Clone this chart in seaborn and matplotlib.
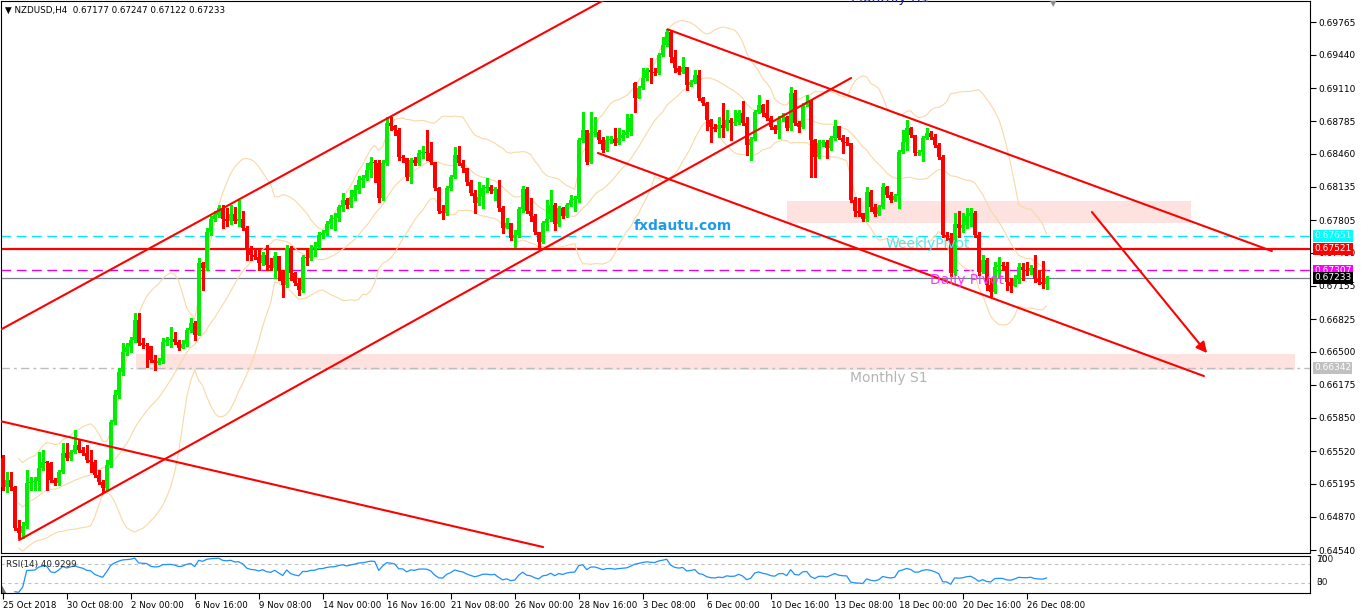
import numpy as np
import pandas as pd
import matplotlib
matplotlib.use("Agg")
import matplotlib.pyplot as plt
import seaborn as sns
from matplotlib.patches import Rectangle, Polygon

# ---------------- data ----------------
symbol_header = "▼ NZDUSD,H4  0.67177 0.67247 0.67122 0.67233"
first_open = 0.6545
gap_opens = {158: 0.6916}

closes = [
0.6516,0.6523,0.6516,0.6476,0.6471,0.6478,0.6520,0.6521,0.6522,0.6535,
0.6541,0.6540,0.6523,0.6520,0.6531,0.6550,0.6545,0.6551,0.6558,0.6553,
0.6550,0.6543,0.6541,0.6528,0.6521,0.6515,0.6538,0.6581,0.6607,0.6630,
0.6650,0.6655,0.6662,0.6682,0.6659,0.6657,0.6656,0.6642,0.6639,0.6641,
0.6660,0.6662,0.6663,0.6660,0.6654,0.6658,0.6672,0.6679,0.6667,0.6738,
0.6733,0.6769,0.6782,0.6786,0.6792,0.6782,0.6780,0.6787,0.6780,0.6782,
0.6773,0.6753,0.6746,0.6744,0.6738,0.6746,0.6736,0.6733,0.6745,0.6731,
0.6716,0.6753,0.6728,0.6718,0.6711,0.6744,0.6743,0.6753,0.6754,0.6766,
0.6768,0.6777,0.6782,0.6783,0.6793,0.6800,0.6795,0.6803,0.6810,0.6820,
0.6822,0.6830,0.6838,0.6837,0.6802,0.6837,0.6877,0.6874,0.6870,0.6843,
0.6842,0.6823,0.6840,0.6837,0.6847,0.6848,0.6847,0.6838,0.6812,0.6790,
0.6788,0.6812,0.6823,0.6845,0.6837,0.6832,0.6818,0.6807,0.6797,0.6803,
0.6812,0.6813,0.6809,0.6811,0.6792,0.6773,0.6778,0.6763,0.6766,0.6791,
0.6811,0.6790,0.6785,0.6769,0.6759,0.6778,0.6782,0.6795,0.6777,0.6792,
0.6785,0.6795,0.6800,0.6801,0.6860,0.6870,0.6838,0.6867,0.6868,0.6860,
0.6850,0.6860,0.6861,0.6857,0.6862,0.6865,0.6868,0.6882,0.6901,0.6911,
0.6921,0.6929,0.6927,0.6926,0.6944,0.6954,0.6967,0.6942,0.6931,0.6927,
0.6932,0.6914,0.6917,0.6924,0.6901,0.6896,0.6880,0.6873,0.6871,0.6875,
0.6872,0.6880,0.6877,0.6878,0.6886,0.6877,0.6855,0.6861,0.6887,0.6894,
0.6886,0.6882,0.6873,0.6870,0.6882,0.6883,0.6872,0.6906,0.6877,0.6873,
0.6894,0.6897,0.6860,0.6843,0.6857,0.6858,0.6852,0.6862,0.6874,0.6862,
0.6858,0.6857,0.6800,0.6790,0.6788,0.6782,0.6808,0.6793,0.6787,0.6793,
0.6813,0.6805,0.6800,0.6804,0.6848,0.6858,0.6872,0.6865,0.6847,0.6848,
0.6862,0.6867,0.6863,0.6855,0.6843,0.6766,0.6763,0.6728,0.6777,0.6773,
0.6776,0.6785,0.6788,0.6766,0.6729,0.6741,0.6716,0.6709,0.6734,0.6736,
0.6735,0.6719,0.6715,0.6723,0.6734,0.6731,0.6730,0.6733,0.6722,0.6719,
0.67177,0.67233]

highs = [
0.6548,0.6531,0.6531,0.6517,0.6484,0.6482,0.6533,0.6526,0.6526,0.6551,
0.6553,0.6542,0.6541,0.6525,0.6533,0.6560,0.6560,0.6553,0.6573,0.6563,
0.6556,0.6558,0.6553,0.6543,0.6533,0.6523,0.6543,0.6583,0.6612,0.6634,
0.6659,0.6659,0.6665,0.6689,0.6689,0.6664,0.6659,0.6652,0.6647,0.6644,
0.6664,0.6665,0.6675,0.6670,0.6662,0.6662,0.6674,0.6684,0.6681,0.6743,
0.6739,0.6773,0.6785,0.6790,0.6795,0.6795,0.6792,0.6795,0.6793,0.6800,
0.6790,0.6775,0.6755,0.6751,0.6753,0.6749,0.6756,0.6743,0.6749,0.6745,
0.6731,0.6756,0.6755,0.6729,0.6723,0.6746,0.6752,0.6756,0.6759,0.6769,
0.6771,0.6780,0.6786,0.6788,0.6795,0.6807,0.6802,0.6810,0.6815,0.6824,
0.6825,0.6837,0.6843,0.6840,0.6840,0.6840,0.6883,0.6883,0.6875,0.6872,
0.6845,0.6842,0.6842,0.6843,0.6850,0.6854,0.6870,0.6858,0.6838,0.6813,
0.6795,0.6814,0.6825,0.6853,0.6854,0.6840,0.6832,0.6820,0.6810,0.6818,
0.6815,0.6822,0.6815,0.6813,0.6820,0.6794,0.6783,0.6778,0.6771,0.6793,
0.6814,0.6813,0.6802,0.6787,0.6769,0.6780,0.6800,0.6810,0.6797,0.6794,
0.6793,0.6797,0.6805,0.6804,0.6862,0.6887,0.6870,0.6887,0.6883,0.6870,
0.6863,0.6864,0.6864,0.6872,0.6872,0.6870,0.6885,0.6885,0.6917,0.6913,
0.6931,0.6931,0.6941,0.6931,0.6946,0.6962,0.6970,0.6968,0.6949,0.6933,
0.6942,0.6929,0.6919,0.6929,0.6929,0.6902,0.6897,0.6881,0.6876,0.6883,
0.6896,0.6889,0.6882,0.6889,0.6889,0.6898,0.6883,0.6863,0.6889,0.6904,
0.6895,0.6899,0.6884,0.6875,0.6884,0.6886,0.6884,0.6912,0.6909,0.6879,
0.6896,0.6904,0.6899,0.6861,0.6860,0.6860,0.6860,0.6864,0.6880,0.6874,
0.6865,0.6863,0.6855,0.6803,0.6802,0.6788,0.6813,0.6810,0.6796,0.6795,
0.6817,0.6814,0.6808,0.6806,0.6850,0.6870,0.6880,0.6873,0.6865,0.6850,
0.6864,0.6872,0.6869,0.6866,0.6857,0.6845,0.6769,0.6768,0.6788,0.6790,
0.6788,0.6792,0.6792,0.6790,0.6769,0.6746,0.6743,0.6723,0.6739,0.6744,
0.6739,0.6739,0.6723,0.6726,0.6738,0.6738,0.6739,0.6736,0.6746,0.6731,
0.6740,0.67247]

lows = [
0.6513,0.6511,0.6513,0.6474,0.6466,0.6466,0.6476,0.6513,0.6513,0.6513,
0.6533,0.6513,0.6521,0.6518,0.6518,0.6530,0.6543,0.6543,0.6550,0.6551,
0.6548,0.6541,0.6531,0.6526,0.6519,0.6511,0.6513,0.6536,0.6579,0.6604,
0.6627,0.6647,0.6650,0.6660,0.6657,0.6654,0.6635,0.6640,0.6632,0.6638,
0.6639,0.6657,0.6655,0.6658,0.6652,0.6654,0.6656,0.6670,0.6662,0.6667,
0.6711,0.6731,0.6766,0.6780,0.6784,0.6773,0.6775,0.6777,0.6778,0.6775,
0.6771,0.6741,0.6741,0.6742,0.6731,0.6736,0.6731,0.6731,0.6723,0.6721,
0.6704,0.6714,0.6721,0.6716,0.6706,0.6709,0.6736,0.6741,0.6745,0.6753,
0.6763,0.6766,0.6773,0.6771,0.6780,0.6790,0.6792,0.6793,0.6800,0.6807,
0.6813,0.6820,0.6823,0.6818,0.6798,0.6800,0.6835,0.6870,0.6865,0.6840,
0.6838,0.6820,0.6817,0.6835,0.6835,0.6842,0.6840,0.6836,0.6810,0.6788,
0.6782,0.6786,0.6810,0.6822,0.6835,0.6828,0.6815,0.6805,0.6788,0.6795,
0.6792,0.6808,0.6807,0.6800,0.6790,0.6768,0.6773,0.6761,0.6754,0.6764,
0.6789,0.6788,0.6780,0.6767,0.6753,0.6758,0.6771,0.6780,0.6771,0.6775,
0.6783,0.6784,0.6794,0.6790,0.6798,0.6858,0.6836,0.6837,0.6864,0.6857,
0.6848,0.6849,0.6857,0.6855,0.6856,0.6860,0.6863,0.6865,0.6887,0.6901,
0.6910,0.6919,0.6916,0.6924,0.6925,0.6943,0.6953,0.6937,0.6927,0.6925,
0.6926,0.6909,0.6913,0.6916,0.6899,0.6894,0.6870,0.6858,0.6869,0.6863,
0.6863,0.6870,0.6860,0.6875,0.6876,0.6875,0.6845,0.6840,0.6860,0.6886,
0.6884,0.6880,0.6871,0.6867,0.6862,0.6879,0.6870,0.6870,0.6875,0.6868,
0.6872,0.6893,0.6823,0.6823,0.6842,0.6854,0.6842,0.6850,0.6860,0.6861,
0.6847,0.6855,0.6798,0.6785,0.6785,0.6780,0.6780,0.6790,0.6785,0.6786,
0.6792,0.6803,0.6798,0.6799,0.6792,0.6847,0.6850,0.6863,0.6845,0.6845,
0.6839,0.6861,0.6861,0.6853,0.6841,0.6764,0.6761,0.6725,0.6726,0.6764,
0.6769,0.6773,0.6775,0.6764,0.6726,0.6728,0.6711,0.6705,0.6708,0.6724,
0.6731,0.6711,0.6709,0.6716,0.6718,0.6721,0.6726,0.6727,0.6719,0.6717,
0.6713,0.67122]

time_labels = ["25 Oct 2018", "30 Oct 08:00", "2 Nov 00:00", "6 Nov 16:00", "9 Nov 08:00",
               "14 Nov 00:00", "16 Nov 16:00", "21 Nov 08:00", "26 Nov 00:00", "28 Nov 16:00",
               "3 Dec 08:00", "6 Dec 00:00", "10 Dec 16:00", "13 Dec 08:00", "18 Dec 00:00",
               "20 Dec 16:00", "26 Dec 08:00"]
bars_per_label = 16

price_ticks = [0.69765, 0.69440, 0.69110, 0.68785, 0.68460, 0.68135, 0.67805, 0.67480,
               0.67155, 0.66825, 0.66500, 0.66175, 0.65850, 0.65520, 0.65195, 0.64870, 0.64540]

weekly_pivot = 0.67651
monthly_pivot = 0.67521
daily_pivot = 0.67307
last_price = 0.67233
monthly_s1 = 0.66342

# trend lines: ([bar index start, end], [price start, end])
channel_up_top = ([-0.7, 150.8], [0.66717, 0.69993])
channel_up_bottom = ([4.1, 212.1], [0.64639, 0.69211])
channel_down_top = ([166.2, 317.3], [0.69693, 0.67499])
channel_down_bottom = ([148.8, 300.3], [0.68469, 0.66262])
old_down_line = ([-0.7, 135.1], [0.65817, 0.64570])
forecast_arrow = ([272.3, 301.1], [0.67885, 0.66489])

# zones: (bar start, bar end, price low, price high)
upper_zone = (196.1, 297.1, 0.67776, 0.67994)
lower_zone = (33.3, 323.1, 0.66322, 0.66480)

rsi_label = "RSI(14) 40.9299"

# ---------------- derived ----------------
n = len(closes)
idx = np.arange(n)
opens = [first_open] + closes[:-1]
for k, v in gap_opens.items():
    opens[k] = v
o = np.array(opens); c = np.array(closes)
h = np.maximum.reduce([np.array(highs), o, c])
l = np.minimum.reduce([np.array(lows), o, c])

cs = pd.Series(c)
mid = cs.rolling(20, min_periods=5).mean()
sd = cs.rolling(20, min_periods=5).std(ddof=0)
bb = pd.DataFrame({"i": idx, "mid": mid, "up": mid + 2 * sd, "lo": mid - 2 * sd})

delta = cs.diff()
gain = delta.clip(lower=0).ewm(alpha=1 / 14, adjust=True, min_periods=3).mean()
loss = (-delta.clip(upper=0)).ewm(alpha=1 / 14, adjust=True, min_periods=3).mean()
rsi = 100 - 100 / (1 + gain / loss.replace(0, np.nan))
rsi_df = pd.DataFrame({"i": idx, "rsi": rsi}).dropna()

# ---------------- figure ----------------
sns.set_theme(style="white")
plt.rcParams['font.family'] = ['DejaVu Sans']
W, H = 1363, 610
fig = plt.figure(figsize=(W / 100, H / 100), dpi=100)
fig.patch.set_facecolor("white")

def px_axes(x0, y0, x1, y1):
    return fig.add_axes([x0 / W, 1 - y1 / H, (x1 - x0) / W, (y1 - y0) / H])

ax = px_axes(1, 1, 1310, 553)
ax_r = px_axes(1, 556, 1310, 593)

XMIN, XMAX = (1 - 2.7) / 4, (1310 - 2.7) / 4
ax.set_xlim(XMIN, XMAX)
ax.set_ylim(0.64511, 0.69973)

# zones
for z in (upper_zone, lower_zone):
    ax.add_patch(Rectangle((z[0], z[2]), z[1] - z[0], z[3] - z[2],
                           facecolor="#fde2df", edgecolor="none", zorder=0.5))

# horizontal levels
ax.axhline(weekly_pivot, color="#00e8ff", lw=1, dashes=(7, 4), zorder=1)
ax.axhline(monthly_pivot, color="#ff0000", lw=1.6, zorder=1)
ax.axhline(daily_pivot, color="#e600e6", lw=1, dashes=(7, 4), zorder=1)
ax.axhline(last_price, color="#708090", lw=0.9, zorder=1)
ax.axhline(monthly_s1, color="#bdbdbd", lw=1, dashes=(6, 3, 2, 3), zorder=1)

# Bollinger bands
for col in ("up", "mid", "lo"):
    sns.lineplot(data=bb, x="i", y=col, ax=ax, color="#f9d8a6", lw=0.8, zorder=1.5)

# candles
bull = c >= o
colors = np.where(bull, "#00ee00", "#ff0000")
body_lo = np.minimum(o, c)
body_h = np.maximum(np.abs(c - o), 0.00008)
ax.vlines(idx, l, h, colors=colors, lw=1.0, zorder=3, antialiased=False)
ax.bar(idx, body_h, bottom=body_lo, width=0.75, color=colors, linewidth=0, zorder=3.5,
       antialiased=False)

# trend lines
for ln in (channel_up_top, channel_up_bottom, channel_down_top, channel_down_bottom, old_down_line):
    sns.lineplot(x=ln[0], y=ln[1], ax=ax, color="#ff0000", lw=1.5, zorder=4)
ax.annotate("", xy=(forecast_arrow[0][1], forecast_arrow[1][1]),
            xytext=(forecast_arrow[0][0], forecast_arrow[1][0]),
            arrowprops=dict(arrowstyle="-|>", color="#ff0000", lw=1.5, mutation_scale=16,
                            shrinkA=0, shrinkB=0), zorder=4)

# texts on chart
ax.text(212.1, 0.70003, "Monthly R1", color="#22228c", fontsize=10, va="center", ha="left",
        clip_on=False)
ax.text(262.6, 0.69945, "▼", color="#8c8c8c", fontsize=6, va="center", ha="center")
ax.text(170.1, 0.67747, "fxdautu.com", color="#1e9be6", fontsize=10, fontweight="bold",
        va="center", ha="center", zorder=5)
ax.text(220.6, 0.67568, "WeeklyPivot", color="#4fe3f5", fontsize=10, va="center", ha="left", zorder=5)
ax.text(231.8, 0.67212, "Daily Pivot", color="#ff33ff", fontsize=10, va="center", ha="left", zorder=5)
ax.text(211.8, 0.66242, "Monthly S1", color="#b4b4b4", fontsize=10, va="center", ha="left", zorder=5)
ax.text(0.003, 0.983, symbol_header, transform=ax.transAxes, fontsize=6.3, color="black",
        va="center", ha="left", zorder=6)

# right price axis
ax.yaxis.tick_right()
ax.set_yticks(price_ticks)
ax.set_yticklabels([f"{p:.5f}" for p in price_ticks])
ax.tick_params(axis="y", which="both", direction="out", length=4, width=0.8, labelsize=6.5,
               pad=2, colors="black", right=True, left=False)
ax.set_xticks([])
ax.set_xlabel(""); ax.set_ylabel("")
for s in ax.spines.values():
    s.set_color("black"); s.set_linewidth(0.8)

for val, colr in ((weekly_pivot, "#00ffff"), (monthly_pivot, "#ff0000"),
                  (daily_pivot, "#ff00ff"), (last_price, "#000000"), (monthly_s1, "#c0c0c0")):
    ax.annotate(f"{val:.5f}", xy=(1, val), xycoords=("axes fraction", "data"), xytext=(4, 0),
                textcoords="offset pixels", ha="left", va="center", fontsize=6.5, color="white",
                bbox=dict(boxstyle="square,pad=0.15", fc=colr, ec="none"),
                annotation_clip=False, zorder=10)

# RSI panel
ax_r.set_xlim(XMIN, XMAX)
ax_r.set_ylim(8.9, 86.8)
ax_r.axhline(70, color="#c0c0c0", lw=0.8, dashes=(3, 3))
ax_r.axhline(30, color="#c0c0c0", lw=0.8, dashes=(3, 3))
sns.lineplot(data=rsi_df, x="i", y="rsi", ax=ax_r, color="#1e90ff", lw=0.9)
ax_r.add_patch(Polygon([[0, 0], [0.004, 0], [0, 0.25]], closed=True, transform=ax_r.transAxes,
                       facecolor="#707070", edgecolor="none"))
ax_r.text(0.004, 0.78, rsi_label, transform=ax_r.transAxes, fontsize=6.3, va="center", ha="left")
pos = [k * bars_per_label for k in range(len(time_labels))]
ax_r.set_xticks(pos)
ax_r.set_xticklabels(time_labels)
for lab in ax_r.get_xticklabels():
    lab.set_ha("left")
ax_r.tick_params(axis="x", direction="out", length=4, width=0.8, labelsize=6.2, pad=1.5,
                 colors="black", bottom=True)
ax_r.set_yticks([])
ax_r.set_xlabel(""); ax_r.set_ylabel("")
for s in ax_r.spines.values():
    s.set_color("black"); s.set_linewidth(0.8)
for t, yv in (("100", 80), ("70", 80), ("30", 30), ("0", 30)):
    ax_r.text(1.005, yv, t, transform=ax_r.get_yaxis_transform(), fontsize=6.5, va="center",
              ha="left", clip_on=False)

fig.savefig("out.png", dpi=100, facecolor="white")
